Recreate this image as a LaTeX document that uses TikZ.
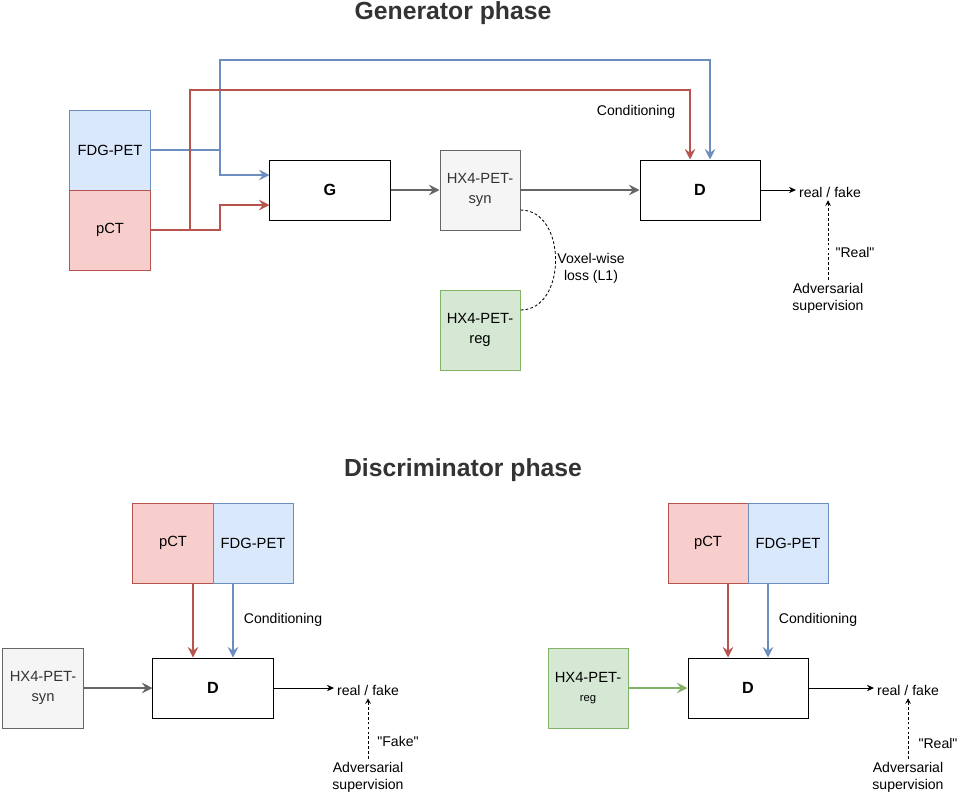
\documentclass[tikz,border=0pt]{standalone}
\usepackage{fontspec}
\setmainfont{Liberation Sans}
\usetikzlibrary{arrows.meta,calc}
\definecolor{redline}{HTML}{B85450}
\definecolor{redfill}{HTML}{F8CECC}
\definecolor{blueline}{HTML}{6C8EBF}
\definecolor{bluefill}{HTML}{DAE8FC}
\definecolor{greyline}{HTML}{666666}
\definecolor{greyfill}{HTML}{F5F5F5}
\definecolor{greenline}{HTML}{82B366}
\definecolor{greenfill}{HTML}{D5E8D4}
\definecolor{darktext}{HTML}{333333}
\tikzset{
  box/.style={shape=rectangle,draw=black,line width=0.7pt,minimum width=2cm,minimum height=2cm,inner sep=0pt,align=center,font=\fontsize{10.5}{14}\selectfont},
  netbox/.style={box,minimum width=3cm,minimum height=1.5cm,font=\fontsize{11.5}{13}\selectfont\bfseries},
  ctbox/.style={box,draw=redline,fill=redfill},
  petbox/.style={box,draw=blueline,fill=bluefill},
  synbox/.style={box,draw=greyline,fill=greyfill,text=darktext},
  regbox/.style={box,draw=greenline,fill=greenfill},
  lbl/.style={align=center,inner sep=2pt,font=\fontsize{10}{12}\selectfont},
  phase/.style={font=\fontsize{17.6}{20}\selectfont\bfseries,text=darktext},
  headarr/.style={-{Stealth[length=7.5pt,width=7.5pt,inset=2.7pt]},line width=1.5pt},
  redarr/.style={headarr,draw=redline},
  bluearr/.style={headarr,draw=blueline},
  greyarr/.style={headarr,draw=greyline},
  greenarr/.style={headarr,draw=greenline},
  outarr/.style={-{Stealth[length=5pt,width=4.5pt,inset=1.5pt]},line width=0.7pt},
  supvarr/.style={-{Stealth[length=4pt,width=4pt,inset=1.5pt]},line width=0.6pt,dash pattern=on 2pt off 1.5pt},
  lossline/.style={line width=0.6pt,dash pattern=on 2pt off 1.5pt}
}

\begin{document}
\begin{tikzpicture}[x=0.025cm,y=-0.025cm]
\useasboundingbox (0,0) rectangle (960,797);

\node[phase] (gtitle) at (453,13) {Generator phase};
\node[petbox] (fdg) at (110,150) {FDG-PET};
\node[ctbox] (pct) at (110,230) {pCT};
\node[netbox] (gen) at (330,190) {G};
\node[synbox] (syn) at (480,190) {HX4-PET-\\syn};
\node[regbox] (reg) at (480,330) {HX4-PET-\\reg};
\node[netbox] (disc) at (700,190) {D};
\node[lbl] (rf) at (830,192) {real / fake};
\node[lbl] (adv) at (828,298) {Adversarial\\supervision};
\node[lbl] (lblreal) at (855,252) {\textquotedbl Real\textquotedbl};
\node[lbl] (cond) at (636,112) {Conditioning};
\node[lbl] (loss) at (591,268) {Voxel-wise\\loss (L1)};

\draw[bluearr] (fdg.east) -- (220,150) |- ($(gen.west)+(0,-15)$);
\draw[bluearr] (fdg.east) -- (220,150) |- (710,60) -- ($(disc.north)+(10,0)$);
\draw[redarr] (pct.east) -- (190,230) |- (690,90) -- ($(disc.north)+(-10,0)$);
\draw[redarr] (pct.east) -- (220,230) |- ($(gen.west)+(0,15)$);
\draw[greyarr] (gen) -- (syn);
\draw[greyarr] (syn) -- (disc);
\draw[lossline] ($(syn.east)+(0,20)$) to[out=0,in=0,looseness=1.2] ($(reg.east)+(0,-20)$);
\draw[outarr] (disc.east) -- (disc.east -| rf.west);
\draw[supvarr] (adv) -- (adv.north |- rf.south);

\node[phase] (dtitle) at (463,470) {Discriminator phase};
\node[ctbox] (pcta) at (173,543) {pCT};
\node[petbox] (fdga) at (253,543) {FDG-PET};
\node[netbox] (disca) at (213,688) {D};
\node[synbox] (syna) at (43,688) {HX4-PET-\\syn};
\node[lbl] (rfa) at (368,690) {real / fake};
\node[lbl] (adva) at (368,777) {Adversarial\\supervision};
\node[lbl] (lblfake) at (398,741) {\textquotedbl Fake\textquotedbl};
\node[lbl] (conda) at (283,620) {Conditioning};

\draw[redarr] ($(pcta.south)+(20,0)$) -- ($(disca.north)+(-20,0)$);
\draw[bluearr] ($(fdga.south)+(-20,0)$) -- ($(disca.north)+(20,0)$);
\draw[greyarr] (syna) -- (disca);
\draw[outarr] (disca.east) -- (disca.east -| rfa.west);
\draw[supvarr] (adva) -- (adva.north |- rfa.south);

\node[ctbox] (pctb) at (708,543) {pCT};
\node[petbox] (fdgb) at (788,543) {FDG-PET};
\node[netbox] (discb) at (748,688) {D};
\node[regbox] (regb) at (588,688) {HX4-PET-\\{\fontsize{8}{10}\selectfont reg}};
\node[lbl] (rfb) at (908,690) {real / fake};
\node[lbl] (advb) at (908,777) {Adversarial\\supervision};
\node[lbl] (lblrealb) at (938,743) {\textquotedbl Real\textquotedbl};
\node[lbl] (condb) at (818,620) {Conditioning};

\draw[redarr] ($(pctb.south)+(20,0)$) -- ($(discb.north)+(-20,0)$);
\draw[bluearr] ($(fdgb.south)+(-20,0)$) -- ($(discb.north)+(20,0)$);
\draw[greenarr] (regb) -- (discb);
\draw[outarr] (discb.east) -- (discb.east -| rfb.west);
\draw[supvarr] (advb) -- (advb.north |- rfb.south);
\end{tikzpicture}
\end{document}
